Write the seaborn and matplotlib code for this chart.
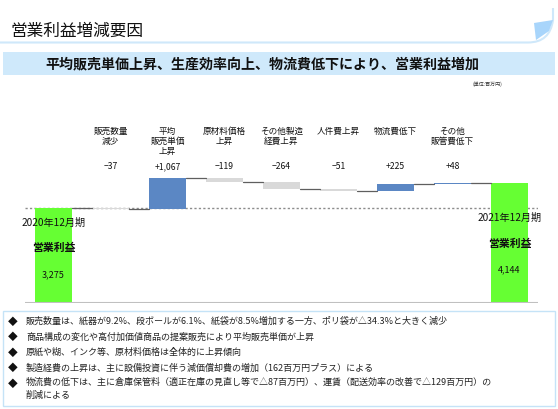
import matplotlib
matplotlib.use("Agg")
import matplotlib.pyplot as plt
import matplotlib.transforms as mtransforms
from matplotlib.patches import Rectangle, Polygon, PathPatch
from matplotlib.path import Path
import seaborn as sns

# --- data ---
start_label = "2020年12月期"
end_label = "2021年12月期"
start_value = 3275
end_value = 4144
factor_labels = ["販売数量\n減少", "平均\n販売単価\n上昇", "原材料価格\n上昇", "その他製造\n経費上昇",
                 "人件費上昇", "物流費低下", "その他\n販管費低下"]
factor_deltas = [-37, 1067, -119, -264, -51, 225, 48]
headline = "営業利益増減要因"
banner = "平均販売単価上昇、生産効率向上、物流費低下により、営業利益増加"
unit_note = "(単位:百万円)"
notes = [
    "販売数量は、紙器が9.2%、段ボールが6.1%、紙袋が8.5%増加する一方、ポリ袋が△34.3%と大きく減少",
    "商品構成の変化や高付加価値商品の提案販売により平均販売単価が上昇",
    "原紙や糊、インク等、原材料価格は全体的に上昇傾向",
    "製造経費の上昇は、主に設備投資に伴う減価償却費の増加（162百万円プラス）による",
    "物流費の低下は、主に倉庫保管料（適正在庫の見直し等で△87百万円）、運賃（配送効率の改善で△129百万円）の\n削減による",
]

sns.set_theme(style="white")
plt.rcParams["font.family"] = ["Noto Sans CJK JP", "DejaVu Sans"]

GREEN = "#66ff33"
BLUE = "#5b87c4"
GREY = "#d9d9d9"

# waterfall geometry from the values
levels = [start_value]
for d in factor_deltas:
    levels.append(levels[-1] + d)
keys = ["start"] + [f"f{i}" for i in range(len(factor_deltas))] + ["end"]
bottoms = [0] + [min(levels[i], levels[i + 1]) for i in range(len(factor_deltas))] + [0]
heights = [start_value] + [abs(d) for d in factor_deltas] + [end_value]
colors = [GREEN] + [BLUE if d > 0 else GREY for d in factor_deltas] + [GREEN]

W, H = 558, 409
fig = plt.figure(figsize=(W / 100, H / 100), dpi=100)

# background axes in pixel coordinates for the slide decoration
bg = fig.add_axes([0, 0, 1, 1])
bg.set_xlim(0, W)
bg.set_ylim(H, 0)
bg.axis("off")

# header with curled corner
verts = [(0, 42.5), (528, 42.5), (550, 42.5), (553, 20), (553, 8)]
codes = [Path.MOVETO, Path.LINETO, Path.CURVE3, Path.CURVE3, Path.LINETO]
bg.add_patch(PathPatch(Path(verts, codes), fill=False, edgecolor="#cfe8fa", lw=1.5))
bg.add_patch(Polygon([(534, 23), (553, 20), (549, 31), (536, 40)], closed=True,
                     facecolor="#a8d5fb", edgecolor="none"))
bg.text(10, 31, headline, fontsize=12, va="center", ha="left", color="#111111")

bg.add_patch(Rectangle((3, 52), 552, 23, facecolor="#cfe9fb", edgecolor="none"))
bg.text(262, 64, banner, fontsize=10.1, fontweight="bold", ha="center", va="center", color="#111111")
bg.text(502, 84.5, unit_note, fontsize=3.6, ha="right", va="center", color="#333333")

# notes box
bg.add_patch(Rectangle((2.5, 310.5), 552, 95, facecolor="white", edgecolor="#c5e3f7", lw=1))
note_y = [321.5, 337, 352.5, 368, 384]
for y, txt in zip(note_y, notes):
    bg.text(13, y, "◆", fontsize=7, ha="center", va="center", color="#111111")
    if "\n" in txt:
        bg.text(26, y - 6, txt, fontsize=6.5, ha="left", va="top", color="#222222", linespacing=1.5)
    else:
        bg.text(26, y, txt, fontsize=6.5, ha="left", va="center", color="#222222")

# chart axes
ax = fig.add_axes([25 / W, (H - 303) / H, (538 - 25) / W, (303 - 110) / H])
sns.barplot(x=keys, y=heights, bottom=bottoms, width=0.65, ax=ax, color=GREY,
            saturation=1, edgecolor="none", linewidth=0, zorder=3)
for patch, c in zip(ax.patches, colors):
    patch.set_facecolor(c)
ax.set_xlim(-0.5, len(keys) - 0.5)
ax.set_ylim(0, (303 - 110) * 34.5)
ax.axis("off")

half = 0.65 / 2
ax.axhline(start_value, color="#8c8c8c", ls=(0, (1.6, 1.6)), lw=1, zorder=2)
ax.axhline(0, color="#c0c0c0", lw=1.5, zorder=4)
for i in range(len(keys) - 1):
    lvl = levels[i] if i < len(levels) else end_value
    ax.plot([i + half, i + 1 - half], [lvl, lvl], color="#5f5f5f", lw=0.9, zorder=4)

mix = mtransforms.blended_transform_factory(ax.transData, bg.transData)
for i, (lab, d) in enumerate(zip(factor_labels, factor_deltas), start=1):
    ax.text(i, 127, lab, transform=mix, ha="center", va="top", fontsize=6.2,
            linespacing=1.15, color="#111111")
    ax.text(i, 166.5, f"{d:+,}".replace("-", "−"), transform=mix, ha="center", va="center",
            fontsize=6.2, color="#111111")

last = len(keys) - 1
for x, ys, vals in [(0, (223, 248, 275), (start_label, "営業利益", f"{start_value:,}")),
                    (last, (218, 244, 270), (end_label, "営業利益", f"{end_value:,}"))]:
    ax.text(x, ys[0], vals[0], transform=mix, ha="center", va="center", fontsize=7.3,
            color="#111111", zorder=5)
    ax.text(x, ys[1], vals[1], transform=mix, ha="center", va="center", fontsize=7.8,
            fontweight="bold", color="#111111", zorder=5)
    ax.text(x, ys[2], vals[2], transform=mix, ha="center", va="center", fontsize=6.5,
            color="#111111", zorder=5)

fig.savefig("out.png", dpi=100)
